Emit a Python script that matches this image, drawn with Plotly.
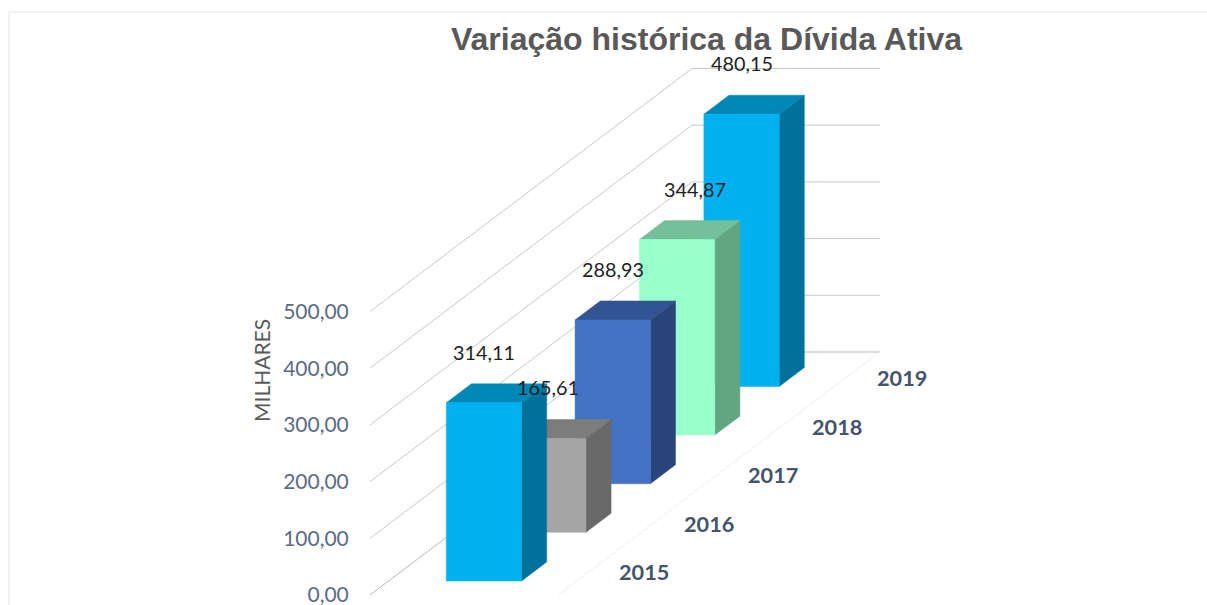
import plotly.graph_objects as go

# Data
years = ["2015", "2016", "2017", "2018", "2019"]
values = [314.11, 165.61, 288.93, 344.87, 480.15]
value_labels = ["314,11", "165,61", "288,93", "344,87", "480,15"]
tick_values = [0, 100, 200, 300, 400, 500]
tick_labels = ["0,00", "100,00", "200,00", "300,00", "400,00", "500,00"]

# Styles: (front, top, side)
bar_colors = [
    ("#00B0F0", "#0087B6", "#00719B"),
    ("#A5A5A5", "#7C7C7C", "#696969"),
    ("#4472C4", "#335493", "#2A4579"),
    ("#99FFCC", "#74C09A", "#61A680"),
    ("#00B0F0", "#0087B6", "#00719B"),
]

# Oblique projection of the 3D chart box
W, H = 1207, 605
PX_PER_UNIT = 0.567
ZERO_PX = 595
X0 = 370            # screen x of the front of the value wall
DX = 64.4           # screen px per category in depth
DY = 48.6 / PX_PER_UNIT  # value units per category in depth
WALL_W = 188
BAR_L, BAR_R = 57.6, 132.9
D0, D1 = 0.29, 0.68


def proj(lat, depth, val):
    return X0 + lat + DX * depth, val + DY * depth


def poly(points, color, name):
    pts = [proj(*p) for p in points]
    pts.append(pts[0])
    return go.Scatter(
        x=[p[0] for p in pts], y=[p[1] for p in pts],
        mode="lines", fill="toself", fillcolor=color,
        line=dict(color=color, width=0.5), hoverinfo="skip",
        showlegend=False, name=name,
    )


fig = go.Figure()
n = len(years)

# Wall gridlines
for v in tick_values:
    a, b, c = proj(0, 0, v), proj(0, n, v), proj(WALL_W, n, v)
    fig.add_trace(go.Scatter(
        x=[a[0], b[0], c[0]], y=[a[1], b[1], c[1]], mode="lines",
        line=dict(color="#C3C9D3" if v else "#AEB9C8", width=1),
        hoverinfo="skip", showlegend=False))

# Floor right edge
a, b = proj(WALL_W, 0, 0), proj(WALL_W, n, 0)
fig.add_trace(go.Scatter(x=[a[0], b[0]], y=[a[1], b[1]], mode="lines",
                         line=dict(color="#ECEEF1", width=1),
                         hoverinfo="skip", showlegend=False))

# Bars, back to front
for i in range(n - 1, -1, -1):
    v = values[i]
    front, top, side = bar_colors[i]
    d0, d1 = i + D0, i + D1
    fig.add_trace(poly([(BAR_R, d0, 0), (BAR_R, d1, 0), (BAR_R, d1, v), (BAR_R, d0, v)], side, years[i]))
    fig.add_trace(poly([(BAR_L, d0, v), (BAR_R, d0, v), (BAR_R, d1, v), (BAR_L, d1, v)], top, years[i]))
    fig.add_trace(poly([(BAR_L, d0, 0), (BAR_R, d0, 0), (BAR_R, d0, v), (BAR_L, d0, v)], front, years[i]))

annotations = []

# Value labels
LABEL_LIFT = 51
for i, (v, t) in enumerate(zip(values, value_labels)):
    x, y = proj((BAR_L + BAR_R) / 2, i + D0, v)
    annotations.append(dict(
        x=x, y=y, xref="x", yref="y", text=t, showarrow=False,
        xshift=18 if i == 3 else 0, yshift=LABEL_LIFT,
        font=dict(family="Lato, Carlito, sans-serif", size=19.8, color="#1F1F1F")))

# Category labels
for i, t in enumerate(years):
    x, y = proj(WALL_W + 54, i + 0.5, -3)
    annotations.append(dict(
        x=x, y=y, xref="x", yref="y", text=t, showarrow=False,
        font=dict(family="Lato, Carlito, sans-serif", size=21.7, color="#44546A", weight="bold")))

# Axis title
annotations.append(dict(
    x=261, y=(ZERO_PX - 371) / PX_PER_UNIT, xref="x", yref="y", text="MILHARES",
    textangle=-90, showarrow=False,
    font=dict(family="Lato, Carlito, sans-serif", size=21, color="#595959")))

# Frame of the screenshot
FRAME = "#E1E5EB"
shapes = [
    dict(type="line", xref="x", yref="paper", x0=9, x1=W, y0=1 - 12 / H, y1=1 - 12 / H, line=dict(color=FRAME, width=1)),
    dict(type="line", xref="x", yref="paper", x0=9, x1=9, y0=0, y1=1 - 12 / H, line=dict(color=FRAME, width=1)),
]

fig.update_layout(
    width=W, height=H, autosize=False,
    margin=dict(l=0, r=0, t=0, b=0, pad=0),
    paper_bgcolor="white", plot_bgcolor="white",
    showlegend=False, annotations=annotations, shapes=shapes,
    title=dict(
        text="Variação histórica da Dívida Ativa",
        x=706.5 / W, xanchor="center", y=1 - 39 / H, yanchor="middle",
        font=dict(family="Liberation Sans, Arial, sans-serif", size=32, color="#595959", weight="bold")),
    xaxis=dict(range=[0, W], visible=False, fixedrange=True),
    yaxis=dict(
        range=[(ZERO_PX - H) / PX_PER_UNIT, ZERO_PX / PX_PER_UNIT],
        anchor="free", position=X0 / W,
        tickmode="array", tickvals=tick_values, ticktext=tick_labels,
        ticks="outside", ticklen=17, tickcolor="rgba(0,0,0,0)",
        ticklabeloverflow="allow",
        showgrid=False, zeroline=False, showline=False, fixedrange=True,
        tickfont=dict(family="Lato, Carlito, sans-serif", size=21, color="#5B6B84")),
)

fig.write_html("out.html", config={"displayModeBar": False, "responsive": False},
               post_script="document.body.style.margin='0';document.body.style.overflow='hidden';")
